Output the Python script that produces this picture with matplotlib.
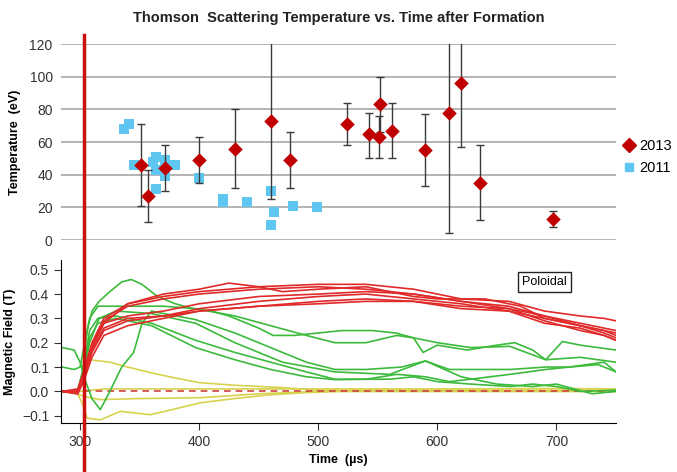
import matplotlib.pyplot as plt
from matplotlib.lines import Line2D

plt.rcParams['font.family'] = ['Liberation Sans', 'DejaVu Sans']

# ---- Thomson scattering temperatures ----
t_2013 = [351, 357, 371, 400, 430, 460, 476, 524, 543, 551, 552, 562, 590, 610, 620, 636, 697]
T_2013 = [46, 27, 44, 49, 56, 73, 49, 71, 65, 63, 83, 67, 55, 78, 96, 35, 13]
T_2013_lo = [21, 11, 30, 35, 32, 25, 32, 58, 50, 50, 66, 50, 33, 4, 57, 12, 8]
T_2013_hi = [71, 43, 58, 63, 80, 130, 66, 84, 78, 76, 100, 84, 77, 130, 130, 58, 18]

t_2011 = [337, 341, 345, 361, 364, 364, 364, 371, 371, 380, 400, 420, 420, 440, 460, 460, 463, 479, 499]
T_2011 = [68, 71, 46, 48, 51, 43, 31, 49, 39, 46, 38, 25, 23, 23, 30, 9, 17, 21, 20]

# ---- Poloidal magnetic field traces ----
red_t = [285, 298, 303, 310, 320, 340, 370, 400, 450, 500, 540, 580, 620, 660, 690, 720, 740, 750]
red_1 = [0.0, 0.01, 0.08, 0.20, 0.30, 0.36, 0.39, 0.41, 0.43, 0.44, 0.44, 0.42, 0.38, 0.37, 0.33, 0.31, 0.30, 0.29]
red_3 = [0.0, 0.0, 0.07, 0.19, 0.29, 0.35, 0.38, 0.40, 0.42, 0.43, 0.42, 0.40, 0.37, 0.35, 0.31, 0.27, 0.25, 0.23]
red_4 = [0.0, 0.0, 0.05, 0.17, 0.26, 0.30, 0.31, 0.34, 0.37, 0.39, 0.40, 0.38, 0.36, 0.33, 0.28, 0.26, 0.23, 0.21]
red_5 = [0.0, 0.0, 0.05, 0.16, 0.25, 0.29, 0.31, 0.33, 0.35, 0.37, 0.38, 0.37, 0.34, 0.33, 0.30, 0.27, 0.24, 0.22]
red_6 = [0.0, -0.01, 0.04, 0.14, 0.23, 0.27, 0.30, 0.33, 0.35, 0.36, 0.37, 0.37, 0.35, 0.34, 0.31, 0.28, 0.26, 0.25]
red_7 = [0.0, 0.0, 0.06, 0.18, 0.28, 0.31, 0.33, 0.36, 0.39, 0.40, 0.41, 0.40, 0.37, 0.34, 0.29, 0.25, 0.23, 0.21]
red_2_t = [285, 298, 303, 310, 320, 340, 370, 400, 425, 450, 470, 500, 540, 580, 600, 640, 670, 690, 720, 750]
red_2 = [0.0, -0.01, 0.06, 0.18, 0.28, 0.36, 0.40, 0.42, 0.445, 0.43, 0.41, 0.42, 0.43, 0.39, 0.38, 0.38, 0.35, 0.30, 0.27, 0.24]

green_a_t = [285, 298, 302, 306, 310, 316, 325, 335, 343, 352, 365, 380, 395, 410, 425, 440, 450, 462, 480, 500,
             520, 545, 565, 580, 588, 600, 625, 650, 665, 680, 691, 705, 720, 750]
green_a = [0.0, 0.0, 0.08, 0.25, 0.33, 0.37, 0.41, 0.45, 0.46, 0.44, 0.39, 0.36, 0.34, 0.33, 0.31, 0.28, 0.26, 0.23,
           0.23, 0.24, 0.25, 0.25, 0.24, 0.22, 0.16, 0.19, 0.17, 0.19, 0.20, 0.17, 0.13, 0.205, 0.19, 0.17]
green_b_t = [285, 295, 300, 304, 308, 315, 330, 350, 370, 397, 430, 460, 490, 514, 540, 566, 580, 600, 628, 661,
             691, 720, 750]
green_b = [0.10, 0.09, 0.10, 0.20, 0.30, 0.35, 0.35, 0.35, 0.35, 0.34, 0.31, 0.27, 0.23, 0.20, 0.20, 0.23, 0.22,
           0.20, 0.18, 0.185, 0.13, 0.14, 0.12]
green_c_t = [285, 295, 300, 304, 310, 317, 325, 335, 345, 352, 360, 370, 397, 430, 460, 490, 514, 540, 570, 590,
             610, 628, 661, 691, 711, 740, 750]
green_c = [0.18, 0.17, 0.12, 0.05, -0.03, -0.075, 0.0, 0.10, 0.16, 0.28, 0.33, 0.32, 0.295, 0.24, 0.18, 0.12, 0.09,
           0.09, 0.10, 0.125, 0.09, 0.09, 0.09, 0.10, 0.10, 0.12, 0.08]
green_d_t = [285, 298, 303, 308, 315, 330, 360, 397, 430, 460, 490, 514, 540, 566, 590, 610, 628, 661, 691, 711,
             735, 750]
green_d = [0.0, 0.0, 0.10, 0.25, 0.30, 0.31, 0.28, 0.21, 0.16, 0.12, 0.08, 0.05, 0.05, 0.07, 0.06, 0.04, 0.05, 0.07,
           0.09, 0.10, 0.11, 0.08]
green_e_t = [285, 298, 303, 308, 315, 330, 360, 397, 430, 460, 490, 514, 540, 560, 580, 600, 628, 661, 680, 700,
             720, 750]
green_e = [0.0, 0.0, 0.09, 0.22, 0.28, 0.30, 0.27, 0.18, 0.13, 0.09, 0.06, 0.048, 0.05, 0.05, 0.06, 0.04, 0.03, 0.02,
           0.03, 0.02, 0.0, 0.005]
green_f_t = [285, 298, 303, 308, 316, 330, 360, 397, 430, 470, 514, 560, 590, 620, 650, 680, 700, 730, 750]
green_f = [0.0, 0.0, 0.07, 0.20, 0.30, 0.33, 0.32, 0.28, 0.20, 0.12, 0.08, 0.07, 0.125, 0.06, 0.03, 0.02, 0.03,
           -0.01, 0.0]

yellow_1_t = [285, 298, 302, 308, 325, 340, 359, 380, 400, 430, 468, 500, 600, 750]
yellow_1 = [0.0, 0.0, 0.05, 0.13, 0.12, 0.10, 0.077, 0.055, 0.036, 0.025, 0.016, 0.005, 0.005, 0.005]
yellow_2_t = [285, 298, 303, 317, 345, 401, 450, 500, 750]
yellow_2 = [0.0, -0.01, -0.02, -0.034, -0.03, -0.026, -0.01, 0.0, 0.0]
yellow_3_t = [285, 298, 302, 306, 317, 334, 359, 373, 401, 429, 457, 490, 520, 750]
yellow_3 = [0.0, -0.01, -0.05, -0.11, -0.117, -0.082, -0.096, -0.08, -0.047, -0.03, -0.015, -0.005, 0.0, 0.0]
yellow_4_t = [285, 300, 320, 400, 500, 600, 700, 750]
yellow_4 = [0.0, 0.0, 0.01, 0.01, 0.01, 0.01, 0.012, 0.01]

x_ticks = [300, 400, 500, 600, 700]
T_ticks = [0, 20, 40, 60, 80, 100, 120]
B_ticks = [-0.1, 0.0, 0.1, 0.2, 0.3, 0.4, 0.5]
formation_time = 303

fig = plt.figure(figsize=(6.77, 4.72), dpi=100)
W, H = 677, 472

ax_T = fig.add_axes([61 / W, 1 - 240 / H, 555 / W, 196 / H])
ax_B = fig.add_axes([61 / W, 1 - 423 / H, 555 / W, 163 / H])

# top panel
ax_T.set_xlim(284, 750)
ax_T.set_ylim(0, 120)
ax_T.set_yticks(T_ticks)
ax_T.grid(axis='y', color='#a8a8a8', lw=1.2)
ax_T.set_axisbelow(True)
for s in ax_T.spines.values():
    s.set_visible(False)
ax_T.tick_params(axis='y', length=0, labelsize=10, colors='#333333', pad=6)
ax_T.tick_params(axis='x', bottom=False, labelbottom=False)
ax_T.set_ylabel('Temperature  (eV)', fontsize=9, fontweight='bold', labelpad=6)

ax_T.scatter(t_2011, T_2011, marker='s', s=48, color='#5ec6f0', zorder=2, linewidths=0)
err = [[v - lo for v, lo in zip(T_2013, T_2013_lo)], [hi - v for v, hi in zip(T_2013, T_2013_hi)]]
ax_T.errorbar(t_2013, T_2013, yerr=err, fmt='none', ecolor='#3a3a3a', elinewidth=1, capsize=3, zorder=3)
ax_T.scatter(t_2013, T_2013, marker='D', s=55, color='#c00000', zorder=4, linewidths=0)

handles = [Line2D([], [], marker='D', color='#c00000', ls='', ms=7),
           Line2D([], [], marker='s', color='#5ec6f0', ls='', ms=6)]
fig.legend(handles, ['2013', '2011'], loc='center left', bbox_to_anchor=(622 / W, 1 - 157 / H),
           frameon=False, fontsize=10.5, handletextpad=0.2, labelspacing=0.6, handlelength=1.0,
           borderpad=0, borderaxespad=0)

ax_T.set_title('Thomson  Scattering Temperature vs. Time after Formation', fontsize=10.5,
               fontweight='bold', pad=16, color='#222222')

# bottom panel
ax_B.set_xlim(284, 750)
ax_B.set_ylim(-0.13, 0.54)
ax_B.set_xticks(x_ticks)
ax_B.set_yticks(B_ticks)
ax_B.spines['top'].set_visible(False)
ax_B.spines['right'].set_visible(False)
ax_B.tick_params(labelsize=10, colors='#333333', direction='out', length=5)
ax_B.set_xlabel('Time  (\u00b5s)', fontsize=9, fontweight='bold', labelpad=4)
ax_B.set_ylabel('Magnetic Field (T)', fontsize=9, fontweight='bold', labelpad=4)

red_c = '#e02a2a'
green_c_col = '#3cba3c'
yellow_c = '#d8d24e'
for tt, bb in [(yellow_1_t, yellow_1), (yellow_2_t, yellow_2), (yellow_3_t, yellow_3), (yellow_4_t, yellow_4)]:
    ax_B.plot(tt, bb, color=yellow_c, lw=1.2)
ax_B.plot([formation_time, 750], [0, 0], color='#d04040', lw=1.2, ls=(0, (4, 3)))
for tt, bb in [(green_a_t, green_a), (green_b_t, green_b), (green_c_t, green_c),
               (green_d_t, green_d), (green_e_t, green_e), (green_f_t, green_f)]:
    ax_B.plot(tt, bb, color=green_c_col, lw=1.2)
for bb in [red_1, red_3, red_4, red_5, red_6, red_7]:
    ax_B.plot(red_t, bb, color=red_c, lw=1.2)
ax_B.plot(red_2_t, red_2, color=red_c, lw=1.2)

ax_B.text(690, 0.45, 'Poloidal', fontsize=9, ha='center', va='center',
          bbox=dict(boxstyle='square,pad=0.3', fc='white', ec='#222222', lw=1))

# formation marker spanning both panels
x_fig = (61 + (formation_time - 284) / (750 - 284) * 555) / W
fig.add_artist(Line2D([x_fig, x_fig], [0, 1 - 35 / H], color='#cc1010', lw=2.5))

fig.savefig('out.png', dpi=100)
